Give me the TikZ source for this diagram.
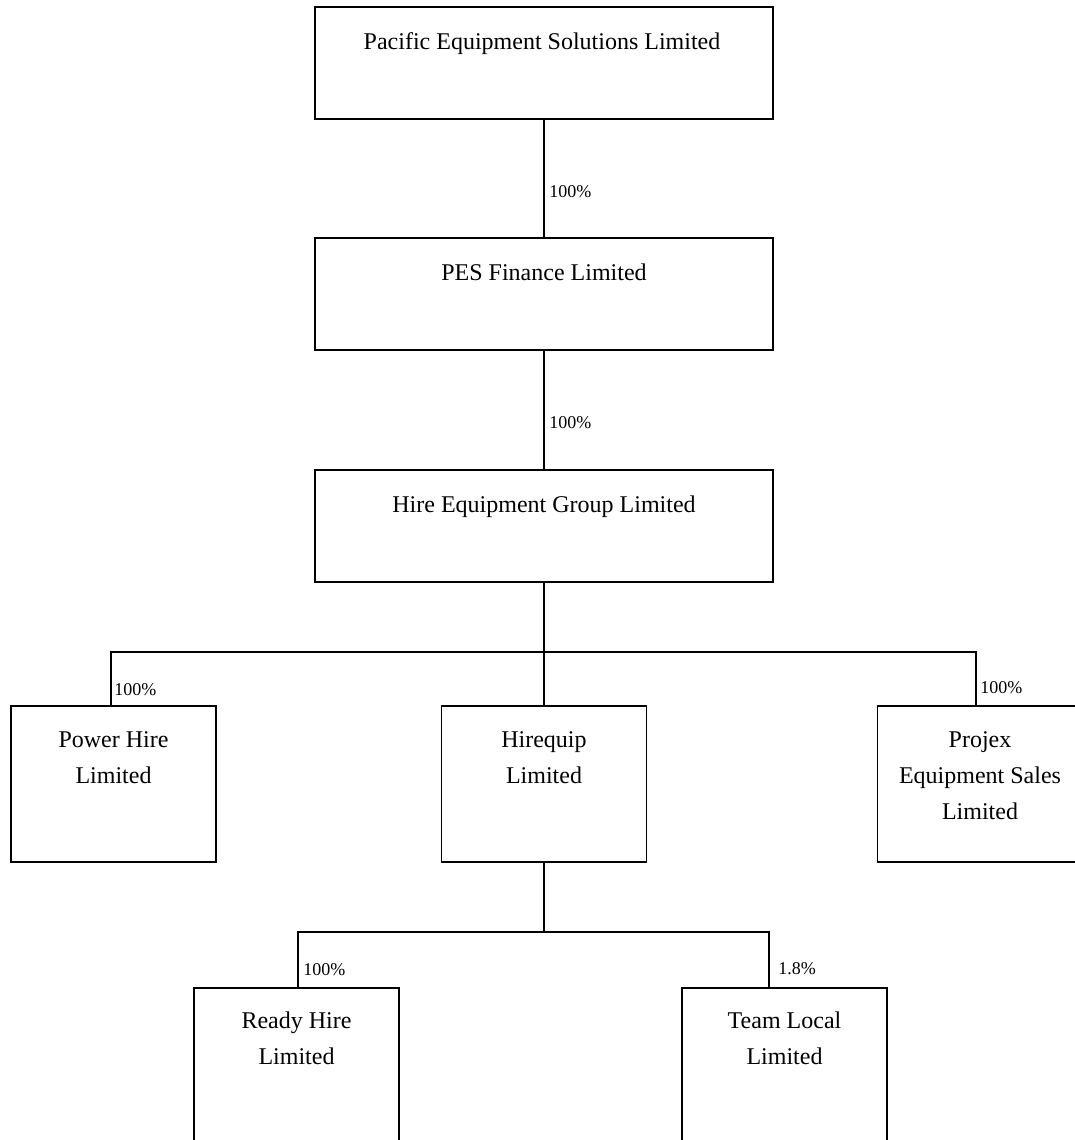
\documentclass[tikz,border=0pt]{standalone}
\usepackage{fontspec}
\setmainfont{Liberation Serif}
\tikzset{
  firm/.style={draw, line width=0.9pt, inner sep=0pt, outer sep=0pt},
  widebox/.style={firm, minimum width=229pt, minimum height=56pt},
  smallbox/.style={firm, minimum width=102.5pt, minimum height=78pt},
  firmname/.style={font=\fontsize{12}{18}\selectfont, align=center, anchor=base, inner sep=0pt},
  share/.style={font=\fontsize{9}{11}\selectfont, anchor=base west, inner sep=0pt},
  link/.style={line width=0.7pt}
}
\begin{document}
\begin{tikzpicture}[x=0.5pt,y=-0.5pt]
\useasboundingbox (0,0) rectangle (1075,1140);

% holding companies
\node[widebox] (pacific) at (544,63) {};
\node[widebox] (pesfin) at (544,294) {};
\node[widebox] (heg) at (544,526) {};
\node[firmname] (pacificname) at (542,49) {Pacific Equipment Solutions Limited};
\node[firmname] (pesfinname) at (544,280) {PES Finance Limited};
\node[firmname] (hegname) at (544,512) {Hire Equipment Group Limited};

% subsidiaries (base = last line)
\node[smallbox] (power) at (113.5,784) {};
\node[smallbox] (hirequip) at (544,784) {};
\node[smallbox] (projex) at (980,784) {};
\node[smallbox] (ready) at (296.5,1066) {};
\node[smallbox] (team) at (784.5,1066) {};
\node[firmname] (powername) at (113.5,783) {Power Hire\\Limited};
\node[firmname] (hirequipname) at (544,783) {Hirequip\\Limited};
\node[firmname] (projexname) at (980,819) {Projex\\Equipment Sales\\Limited};
\node[firmname] (readyname) at (296.5,1064) {Ready Hire\\Limited};
\node[firmname] (teamname) at (784.5,1064) {Team Local\\Limited};

% ownership lines
\coordinate (fork) at (544,652);
\coordinate (lowfork) at (542,932);
\draw[link] (pacific) -- (pesfin);
\draw[link] (pesfin) -- (heg);
\draw[link] (heg) -- (hirequip);
\draw[link] ([xshift=-1.25pt]power.north) |- (fork) -| ([xshift=-2pt]projex.north);
\draw[link] (hirequip) -- (hirequip |- lowfork);
\draw[link] ([xshift=0.75pt]ready.north) |- (lowfork) -| ([xshift=-7.75pt]team.north);

\node[share] (pct1) at (549,197) {100\%};
\node[share] (pct2) at (549,428) {100\%};
\node[share] (pct3) at (114,695) {100\%};
\node[share] (pct4) at (980,693) {100\%};
\node[share] (pct5) at (303,975) {100\%};
\node[share] (pct6) at (778,974) {1.8\%};
\end{tikzpicture}
\end{document}
